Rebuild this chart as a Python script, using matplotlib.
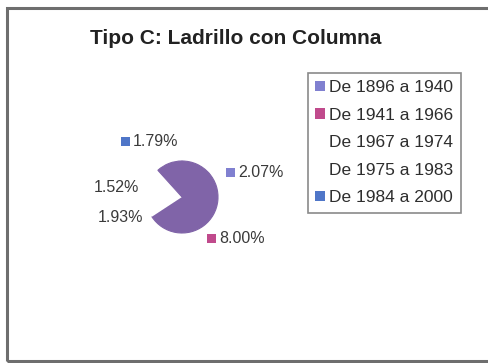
import matplotlib
matplotlib.use("Agg")
import matplotlib.pyplot as plt
from matplotlib.patches import Patch, Rectangle

plt.rcParams['font.family'] = ['Liberation Sans', 'DejaVu Sans']

# Periodos y porcentajes
periodos = ['De 1896 a 1940', 'De 1941 a 1966', 'De 1967 a 1974',
            'De 1975 a 1983', 'De 1984 a 2000']
valores = [2.07, 8.00, 1.93, 1.52, 1.79]
etiquetas = ['2.07%', '8.00%', '1.93%', '1.52%', '1.79%']

# colores del sector y de la leyenda
color_sector = ['#8064a8', '#8064a8', 'white', 'white', '#8064a8']
color_leyenda = ['#8080d0', '#c04a8c', 'white', 'white', '#4f76c8']

W, H = 489, 363
fig = plt.figure(figsize=(W / 100, H / 100), dpi=100)
fig.patch.set_facecolor('white')

# marco del grafico
fig.patches.append(Rectangle((7 / W, 1 - 361 / H), 490 / W, 353 / H,
                             transform=fig.transFigure, fill=False,
                             edgecolor='#6e6e6e', linewidth=2.2))

fig.text(236 / W, 1 - 38 / H, 'Tipo C: Ladrillo con Columna',
         ha='center', va='center', fontsize=15, fontweight='bold',
         color='#222222')

# pastel: centro (182,197) px, radio 36 px
cx, cy, r = 182, 197, 36
half = 100
ax = fig.add_axes([(cx - half) / W, 1 - (cy + half) / H, 2 * half / W, 2 * half / H])
wedges, _ = ax.pie(valores, colors=color_sector, startangle=90,
                   counterclock=False, radius=1)
for w, c in zip(wedges, color_sector):
    if c == 'white':
        w.set_edgecolor('none')
    else:
        w.set_edgecolor(c)
        w.set_linewidth(0.8)
ax.set_xlim(-half / r, half / r)
ax.set_ylim(-half / r, half / r)
ax.set_aspect('equal')
ax.axis('off')

# posicion de cada etiqueta (px relativo al centro) y si lleva cuadrito
pos_etiq = [(78.5, 25), (60, -41), (-61.5, -20), (-66, 10), (-26, 56)]
con_cuadro = [True, True, False, False, True]
for i, (dx, dy) in enumerate(pos_etiq):
    x, y = dx / r, dy / r
    ax.text(x, y, etiquetas[i], ha='center', va='center', fontsize=11.5,
            color='#3a3a3a')
    if con_cuadro[i]:
        ax.add_patch(Rectangle((x - 34.5 / r, y - 4.5 / r), 9 / r, 9 / r,
                               facecolor=color_leyenda[i], edgecolor='none',
                               clip_on=False))

handles = [Patch(facecolor=c, edgecolor='none') for c in color_leyenda]
leg = fig.legend(handles, periodos, loc='upper left',
                 bbox_to_anchor=(308 / W, 1 - 73 / H), fontsize=12.5,
                 handlelength=0.55, handleheight=0.55, handletextpad=0.25,
                 labelspacing=0.72, borderpad=0.42, borderaxespad=0,
                 fancybox=False, framealpha=1, edgecolor='#8a8a8a')
leg.get_frame().set_linewidth(1.2)
for t in leg.get_texts():
    t.set_color('#2e2e2e')

fig.savefig('out.png', dpi=100)
